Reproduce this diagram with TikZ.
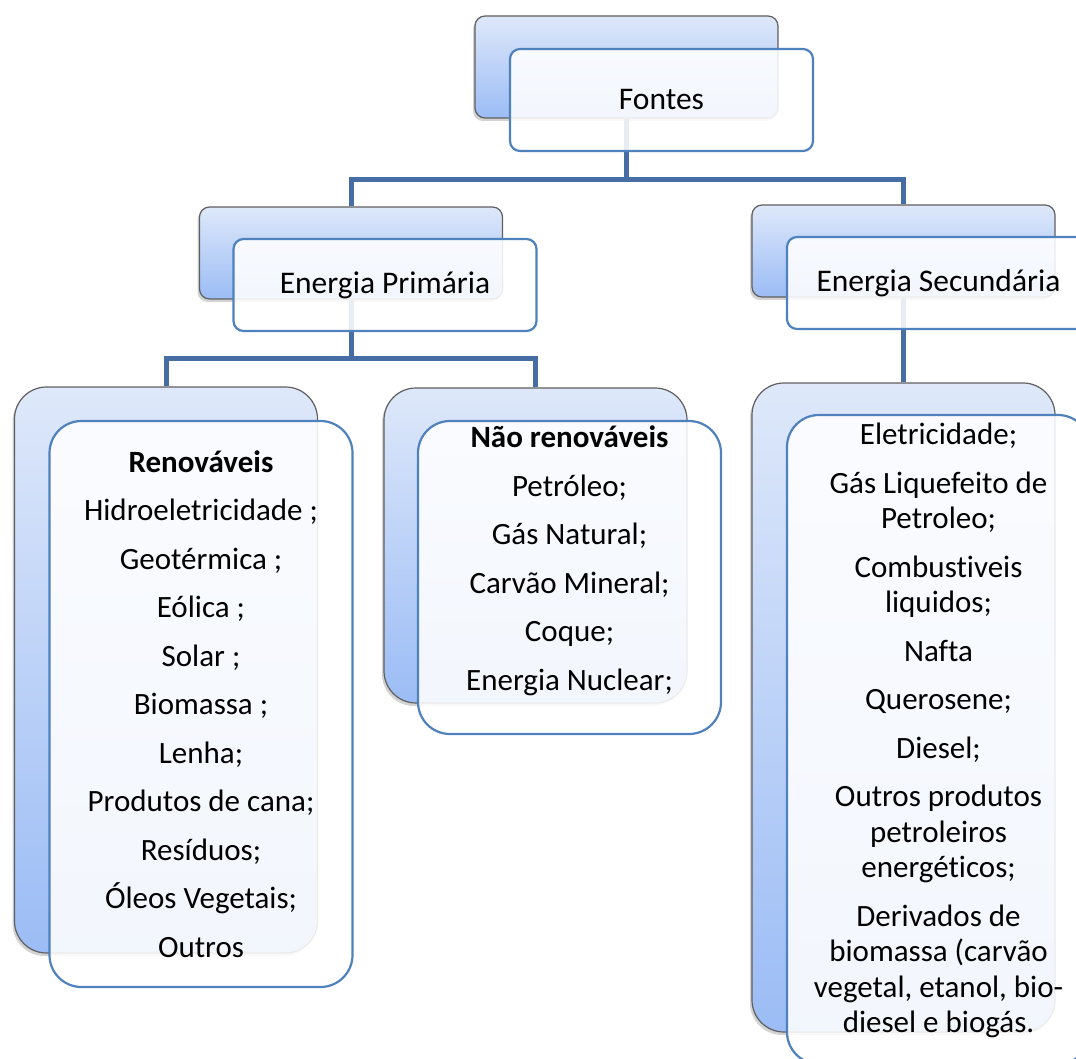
\documentclass[tikz,border=0pt]{standalone}
\usepackage{fontspec}
\setmainfont[Ligatures=NoCommon]{Carlito}
\usetikzlibrary{shadows,backgrounds}
\definecolor{boxblue}{RGB}{79,129,189}
\definecolor{linkblue}{RGB}{70,110,165}
\definecolor{topblue}{RGB}{222,232,250}
\definecolor{botblue}{RGB}{155,188,245}
\definecolor{edgegray}{RGB}{95,95,95}

\begin{document}
\begin{tikzpicture}
 [x=1pt,y=-1pt,
  back node/.style={rectangle, rounded corners=10pt, draw=edgegray, line width=1.2pt, top color=topblue, bottom color=botblue, minimum width=303pt, inner sep=0pt, drop shadow={shadow xshift=-2pt, shadow yshift=-3pt, opacity=0.35}},
  front node/.style={rectangle, rounded corners=10pt, draw=boxblue, line width=2.2pt, fill=white, fill opacity=0.88, text opacity=1, minimum width=303pt, inner sep=0pt, align=center, font=\fontsize{31.5}{35.5}\selectfont},
  big/.style={rounded corners=32pt, font=\fontsize{31}{35.5}\selectfont},
  link/.style={draw=linkblue, line width=5pt}]

\useasboundingbox (0,0) rectangle (1076,1059);

\node[back node, minimum height=102pt] (fontes b) at (626.5,67) {};
\node[front node, minimum height=102pt] (fontes) at ([shift={(35,33)}]fontes b.center) {Fontes};

\node[back node, minimum height=92pt] (prim b) at (351,253) {};
\node[front node, minimum height=92pt] (prim) at ([shift={(34,32)}]prim b.center) {Energia Primária};

\node[back node, minimum height=92pt] (sec b) at (903.5,251) {};
\node[front node, minimum height=92pt] (sec) at ([shift={(35,32)}]sec b.center) {Energia Secundária};

\node[back node, big, minimum height=566pt] (ren b) at (166,670) {};
\node[front node, big, minimum height=566pt] (ren) at ([shift={(35,34)}]ren b.center)
  {\textbf{Renováveis}\\[13pt] Hidroeletricidade ;\\[13pt] Geotérmica ;\\[13pt] Eólica ;\\[13pt] Solar ;\\[13pt]
   Biomassa ;\\[13pt] Lenha;\\[13pt] Produtos de cana;\\[13pt] Resíduos;\\[13pt] Óleos Vegetais;\\[13pt] Outros};

\node[back node, big, minimum height=315pt] (naoren b) at (535.5,545.5) {};
\node[front node, big, minimum height=313pt] (naoren) at ([shift={(34,32)}]naoren b.center)
  {\textbf{Não renováveis}\\[13pt] Petróleo;\\[13pt] Gás Natural;\\[13pt] Carvão Mineral;\\[13pt] Coque;\\[13pt]
   Energia Nuclear;\\[3.5pt]\mbox{}};

\node[back node, big, minimum height=649pt] (secl b) at (903.5,707.5) {};
\node[front node, big, minimum height=649pt] (secl) at ([shift={(35,32)}]secl b.center)
  {Eletricidade;\\[13pt] Gás Liquefeito de\\ Petroleo;\\[13pt] Combustiveis\\ liquidos;\\[13pt] Nafta\\[13pt]
   Querosene;\\[13pt] Diesel;\\[13pt] Outros produtos\\ petroleiros\\ energéticos;\\[13pt]
   Derivados de\\ biomassa (carvão\\ vegetal, etanol, bio-\\ diesel e biogás.\\[-12.5pt]\mbox{}};

\begin{scope}[on background layer]
\path[link]
  (fontes b.south) -- ++(0,61) -| (prim b.north)
  (fontes b.south) -- ++(0,61) -| (sec b.north)
  (prim b.south) -- ++(0,59) -| (ren b.north)
  (prim b.south) -- ++(0,59) -| (naoren b.north)
  (sec b.south) -- (secl b.north);
\end{scope}

\end{tikzpicture}
\end{document}
